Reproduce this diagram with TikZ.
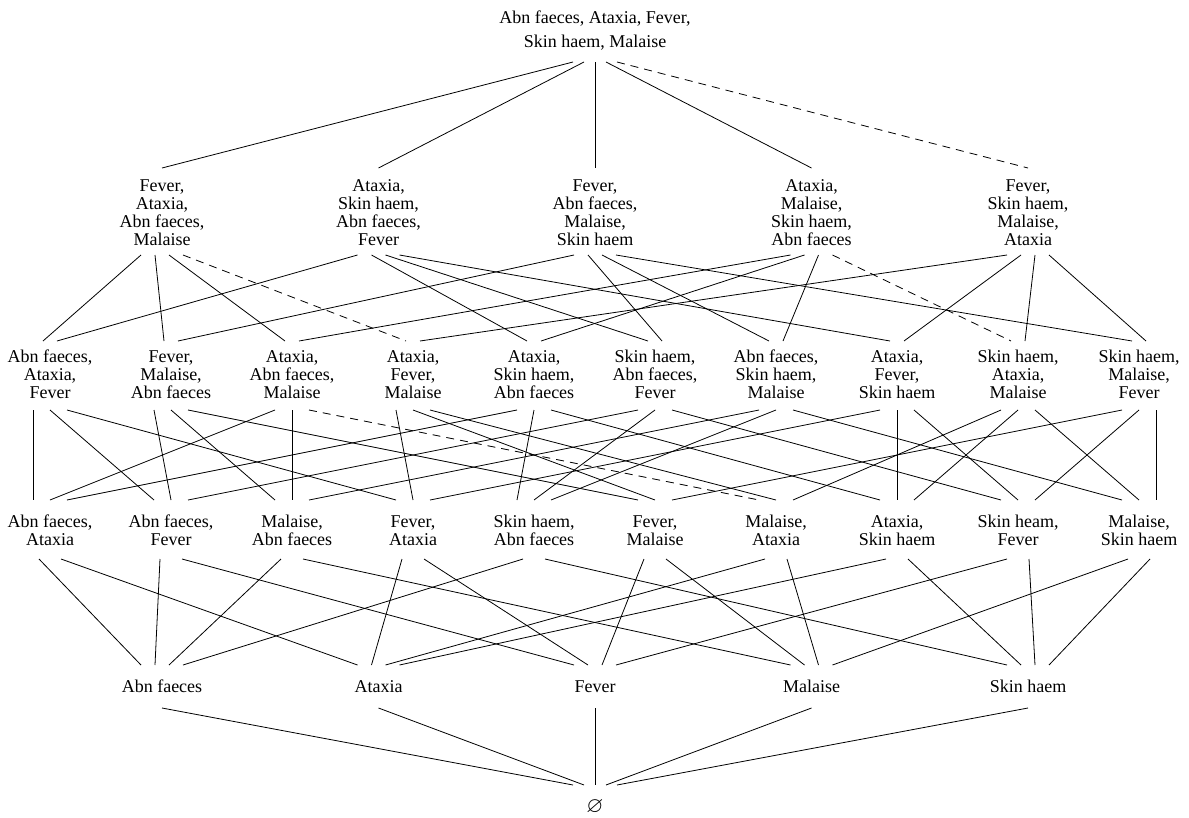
\documentclass[tikz,border=0pt]{standalone}
\usepackage{fontspec}
\setmainfont{Liberation Serif}
\usepackage{amssymb}
\begin{document}
\begin{tikzpicture}[x=1pt,y=-1pt,
  lbl/.style={font=\fontsize{18}{18}\selectfont, align=center, inner sep=0pt, anchor=base},
  edge/.style={line width=0.8pt},
  dsh/.style={edge, dash pattern=on 8pt off 6pt}]
\path[use as bounding box] (0,0) rectangle (1189,817);
% top (base = last line)
\node[lbl, font=\fontsize{18}{23.5}\selectfont] (top) at (595,47) {Abn faeces, Ataxia, Fever,\\Skin haem, Malaise};
% four-element sets
\node[lbl] (q1) at (162,245)   {Fever,\\Ataxia,\\Abn faeces,\\Malaise};
\node[lbl] (q2) at (378.5,245) {Ataxia,\\Skin haem,\\Abn faeces,\\Fever};
\node[lbl] (q3) at (595,245)   {Fever,\\Abn faeces,\\Malaise,\\Skin haem};
\node[lbl] (q4) at (811.5,245) {Ataxia,\\Malaise,\\Skin haem,\\Abn faeces};
\node[lbl] (q5) at (1028,245)  {Fever,\\Skin haem,\\Malaise,\\Ataxia};
% three-element sets
\node[lbl] (t1)  at (50,398)   {Abn faeces,\\Ataxia,\\Fever};
\node[lbl] (t2)  at (171,398)  {Fever,\\Malaise,\\Abn faeces};
\node[lbl] (t3)  at (292,398)  {Ataxia,\\Abn faeces,\\Malaise};
\node[lbl] (t4)  at (413,398)  {Ataxia,\\Fever,\\Malaise};
\node[lbl] (t5)  at (534,398)  {Ataxia,\\Skin haem,\\Abn faeces};
\node[lbl] (t6)  at (655,398)  {Skin haem,\\Abn faeces,\\Fever};
\node[lbl] (t7)  at (776,398)  {Abn faeces,\\Skin haem,\\Malaise};
\node[lbl] (t8)  at (897,398)  {Ataxia,\\Fever,\\Skin haem};
\node[lbl] (t9)  at (1018,398) {Skin haem,\\Ataxia,\\Malaise};
\node[lbl] (t10) at (1139,398) {Skin haem,\\Malaise,\\Fever};
% two-element sets
\node[lbl] (d1)  at (50,545)   {Abn faeces,\\Ataxia};
\node[lbl] (d2)  at (171,545)  {Abn faeces,\\Fever};
\node[lbl] (d3)  at (292,545)  {Malaise,\\Abn faeces};
\node[lbl] (d4)  at (413,545)  {Fever,\\Ataxia};
\node[lbl] (d5)  at (534,545)  {Skin haem,\\Abn faeces};
\node[lbl] (d6)  at (655,545)  {Fever,\\Malaise};
\node[lbl] (d7)  at (776,545)  {Malaise,\\Ataxia};
\node[lbl] (d8)  at (897,545)  {Ataxia,\\Skin haem};
\node[lbl] (d9)  at (1018,545) {Skin heam,\\Fever};
\node[lbl] (d10) at (1139,545) {Malaise,\\Skin haem};
% singletons
\node[lbl] (s1) at (162,692)   {Abn faeces};
\node[lbl] (s2) at (378.5,692) {Ataxia};
\node[lbl] (s3) at (595,692)   {Fever};
\node[lbl] (s4) at (811.5,692) {Malaise};
\node[lbl] (s5) at (1028,692)  {Skin haem};
% empty set
\node[lbl, font=\fontsize{22}{22}\selectfont] (empty) at (595,812) {$\varnothing$};
% edges top -> 4-sets
\foreach \t/\o/\st in {q1/-22/edge, q2/-11/edge, q3/0/edge, q4/11/edge, q5/22/dsh}
  \draw[\st] ([shift={(\o,15)}]top.base) -- ([shift={(0,-77)}]\t.base);
% edges 4-sets -> 3-sets
\foreach \s/\so/\t/\to/\st in {
  q1/-21/t1/-7/edge, q1/-7/t2/-7/edge, q1/7/t3/-7/edge, q1/21/t4/-7/dsh,
  q2/-21/t1/7/edge, q2/-7/t5/-7/edge, q2/7/t6/-7/edge, q2/21/t8/-7/edge,
  q3/-21/t2/7/edge, q3/-7/t6/7/edge, q3/7/t7/-7/edge, q3/21/t10/-7/edge,
  q4/-21/t3/7/edge, q4/-7/t5/7/edge, q4/7/t7/7/edge, q4/21/t9/-7/dsh,
  q5/-21/t4/7/edge, q5/-7/t8/7/edge, q5/7/t9/7/edge, q5/21/t10/7/edge}
  \draw[\st] ([shift={(\so,10)}]\s.base) -- ([shift={(\to,-57)}]\t.base);
% edges 3-sets -> 2-sets
\foreach \s/\so/\t/\to/\st in {
  t1/-17/d1/-17/edge, t1/0/d2/-17/edge, t1/17/d4/-17/edge,
  t2/-17/d2/0/edge, t2/0/d3/-17/edge, t2/17/d6/-17/edge,
  t3/-17/d1/0/edge, t3/0/d3/0/edge, t3/17/d7/-17/dsh,
  t4/-17/d4/0/edge, t4/0/d6/0/edge, t4/17/d7/0/edge,
  t5/-17/d1/17/edge, t5/0/d5/-17/edge, t5/17/d8/-17/edge,
  t6/-17/d2/17/edge, t6/0/d5/0/edge, t6/17/d9/-17/edge,
  t7/-17/d3/17/edge, t7/0/d5/17/edge, t7/17/d10/-17/edge,
  t8/-17/d4/17/edge, t8/0/d8/0/edge, t8/17/d9/0/edge,
  t9/-17/d7/17/edge, t9/0/d8/17/edge, t9/17/d10/0/edge,
  t10/-17/d6/17/edge, t10/0/d9/17/edge, t10/17/d10/17/edge}
  \draw[\st] ([shift={(\so,12)}]\s.base) -- ([shift={(\to,-45)}]\t.base);
% edges 2-sets -> singletons
\foreach \s/\so/\t/\to in {
  d1/-11/s1/-21, d1/11/s2/-21,
  d2/-11/s1/-7, d2/11/s3/-21,
  d3/-11/s1/7, d3/11/s4/-21,
  d4/-11/s2/-7, d4/11/s3/-7,
  d5/-11/s1/21, d5/11/s5/-21,
  d6/-11/s3/7, d6/11/s4/-7,
  d7/-11/s2/7, d7/11/s4/7,
  d8/-11/s2/21, d8/11/s5/-7,
  d9/-11/s3/21, d9/11/s5/7,
  d10/-11/s4/21, d10/11/s5/21}
  \draw[edge] ([shift={(\so,14)}]\s.base) -- ([shift={(\to,-27)}]\t.base);
% edges singletons -> empty set
\foreach \s/\o in {s1/-22, s2/-11, s3/0, s4/11, s5/22}
  \draw[edge] ([shift={(0,16)}]\s.base) -- ([shift={(\o,-27)}]empty.base);
\end{tikzpicture}
\end{document}
